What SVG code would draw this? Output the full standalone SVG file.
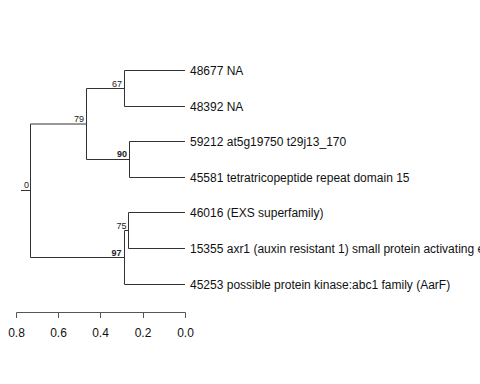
<svg xmlns="http://www.w3.org/2000/svg" width="480" height="384" viewBox="0 0 480 384">
<style>
.br{stroke:#333;stroke-width:1;fill:none}
.ax{stroke:#555;stroke-width:1;fill:none}
.lf{font-family:"Liberation Sans",Arial,sans-serif;font-size:12px;fill:#111}
.bs{font-family:"Liberation Sans",Arial,sans-serif;font-size:9px;fill:#222;text-anchor:end}
.bb{font-weight:bold}
.tk{font-family:"Liberation Sans",Arial,sans-serif;font-size:12px;fill:#111;text-anchor:middle}
</style>
<rect width="480" height="384" fill="#fff"/>
<g id="connectors">
<path class="br" d="M21,190.5H30.5M30.5,124V257.5M30.5,124H86.5M30.5,257.5H124.5"/>
<path class="br" d="M86.5,88.5V159.5M86.5,88.5H124.5M86.5,159.5H129.5"/>
<path class="br" d="M124.5,70.5V106.5M124.5,70.5H185M124.5,106.5H185"/>
<path class="br" d="M129.5,141.5V177.5M129.5,141.5H185M129.5,177.5H185"/>
<path class="br" d="M124.5,230.5V284.5M124.5,230.5H128.5M124.5,284.5H185"/>
<path class="br" d="M128.5,212.5V248.5M128.5,212.5H185M128.5,248.5H185"/>
</g>
<g id="node-root"><text class="bs" x="29" y="188">0</text></g>
<g id="node-79"><text class="bs" x="84" y="122">79</text></g>
<g id="node-67"><text class="bs" x="122" y="86.5">67</text></g>
<g id="node-90"><text class="bs bb" x="127" y="157">90</text></g>
<g id="node-97"><text class="bs bb" x="121.5" y="255.5">97</text></g>
<g id="node-75"><text class="bs" x="126.5" y="228.5">75</text></g>
<g id="leaf-48677"><text class="lf" x="190" y="75">48677 NA</text></g>
<g id="leaf-48392"><text class="lf" x="190" y="111">48392 NA</text></g>
<g id="leaf-59212"><text class="lf" x="190" y="146">59212 at5g19750 t29j13_170</text></g>
<g id="leaf-45581"><text class="lf" x="190" y="182">45581 tetratricopeptide repeat domain 15</text></g>
<g id="leaf-46016"><text class="lf" x="190" y="217">46016 (EXS superfamily)</text></g>
<g id="leaf-15355"><text class="lf" x="190" y="253">15355 axr1 (auxin resistant 1) small protein activating enzyme</text></g>
<g id="leaf-45253"><text class="lf" x="190" y="289">45253 possible protein kinase:abc1 family (AarF)</text></g>
<g id="axis">
<path class="ax" d="M16.5,312.5H185.5M16.5,312.5V318M58.5,312.5V318M100.5,312.5V318M143.5,312.5V318M185.5,312.5V318"/>
<text class="tk" x="16.5" y="337">0.8</text>
<text class="tk" x="58.5" y="337">0.6</text>
<text class="tk" x="100.5" y="337">0.4</text>
<text class="tk" x="143" y="337">0.2</text>
<text class="tk" x="185.5" y="337">0.0</text>
</g>
</svg>
